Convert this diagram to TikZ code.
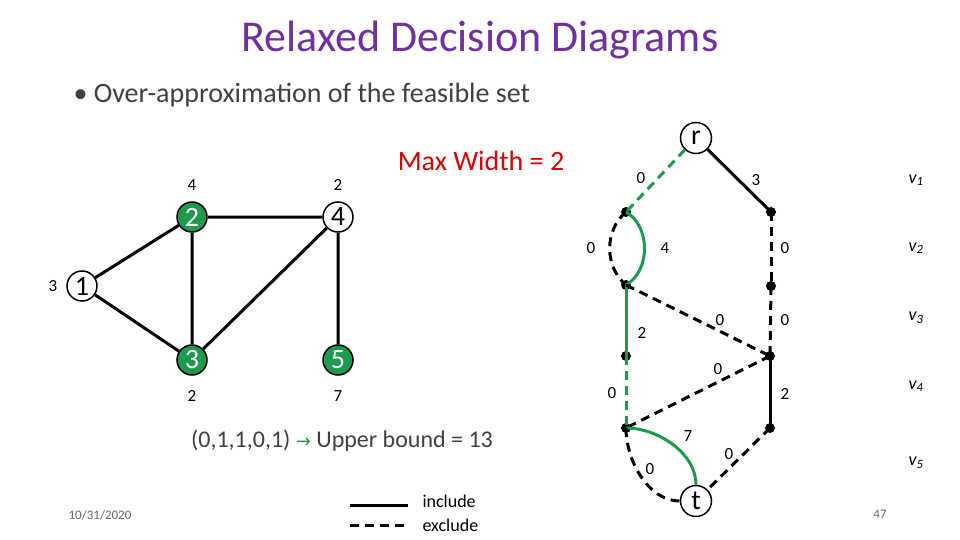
\documentclass[tikz,border=0pt]{standalone}
\usepackage{fontspec}
\setmainfont{Carlito}
\usetikzlibrary{arrows.meta}
\definecolor{grn}{HTML}{1E9A4E}
\definecolor{purp}{HTML}{7030A0}
\definecolor{txt}{HTML}{404040}
\newcommand{\fs}[1]{\fontsize{#1}{#1}\selectfont}
\tikzset{
 gnode/.style={circle,draw,line width=1.5pt,minimum size=30pt,inner sep=0pt,font=\fs{28}},
 gfill/.style={gnode,fill=grn,text=white},
 dot/.style={circle,fill=black,minimum size=10pt,inner sep=0pt},
 lab/.style={font=\fs{17}},
 edge/.style={line width=3pt},
 exc/.style={line width=3pt,dash pattern=on 9pt off 6pt},
 vl/.style={font=\fs{18}\itshape},
}
\begin{document}
\begin{tikzpicture}[x=1pt,y=-1pt]
\useasboundingbox (0,0) rectangle (960,540);
\node[font=\fs{44},text=purp] (title) at (480,40) {Relaxed Decision Diagrams};
\node[font=\fs{28},text=txt,anchor=west] (bul) at (70,95) {\textbullet\ Over-approximation of the feasible set};
\node[font=\fs{28},text=red!85!black] (mw) at (481,161) {Max Width = 2};
% graph
\node[gnode] (n1) at (82,286) {1};
\node[gfill] (n2) at (192,217) {2};
\node[gnode] (n4) at (338,217) {4};
\node[gfill] (n3) at (192,360) {3};
\node[gfill] (n5) at (338,360) {5};
\draw[edge] (n1)--(n2) (n1)--(n3) (n2)--(n4) (n2)--(n3) (n4)--(n3) (n4)--(n5);
\node[lab] (w2) at (192,185) {4};
\node[lab] (w4) at (338,185) {2};
\node[lab] (w1) at (53,286) {3};
\node[lab] (w3) at (192,396) {2};
\node[lab] (w5) at (338,396) {7};
\node[font=\fs{24},text=txt] (ub) at (342,441) {(0,1,1,0,1) \textcolor{grn}{\fontspec{DejaVu Sans}\fs{18}→} Upper bound = 13};
% legend
\coordinate (l1a) at (350,505); \coordinate (l1b) at (408,505);
\coordinate (l2a) at (350,525); \coordinate (l2b) at (408,525);
\draw[edge] (l1a)--(l1b);
\draw[exc] (l2a)--(l2b);
\node[font=\fs{18},anchor=west] (inc) at (419,501) {include};
\node[font=\fs{18},anchor=west] (exc) at (419,525) {exclude};
\node[font=\fs{13},text=gray!80!black] (date) at (100,515) {10/31/2020};
\node[font=\fs{13},text=gray!80!black] (pg) at (880,514) {47};
% DD
\node[gnode,minimum size=31pt] (r) at (696,138) {r};
\node[gnode,minimum size=31pt] (t) at (696,501) {t};
\node[dot] (a1) at (626,212) {}; \node[dot] (b1) at (771,212) {};
\node[dot] (a2) at (626,285) {}; \node[dot] (b2) at (771,286) {};
\node[dot] (a3) at (626,356) {}; \node[dot] (b3) at (770,356) {};
\node[dot] (a4) at (626,428) {}; \node[dot] (b4) at (770,428) {};
\draw[exc,grn] (r)--(a1.center);
\draw[edge] (r)--(b1.center);
\draw[exc] (a1.center) to[bend right=50] (a2.center);
\draw[edge,grn] (a1.center) to[bend left=60] (a2.center);
\draw[exc] (b1.center)--(b2.center);
\draw[edge,grn] (a2.center)--(a3.center);
\draw[exc] (a2.center)--(b3.center);
\draw[exc] (b2.center)--(b3.center);
\draw[exc,grn] (a3.center)--(a4.center);
\draw[exc] (b3.center)--(a4.center);
\draw[edge] (b3.center)--(b4.center);
\draw[edge,grn] (a4.center) to[out=0,in=90,looseness=0.9] (t.north);
\draw[exc] (a4.center) to[out=-90,in=180,looseness=0.9] (t.west);
\draw[exc] (b4.center)--(t);
\node[lab] at (641,178) {0};
\node[lab] at (756,180) {3};
\node[lab] at (591,248) {0};
\node[lab] at (665,248) {4};
\node[lab] at (785,248) {0};
\node[lab] at (642,333) {2};
\node[lab] at (720,320) {0};
\node[lab] at (785,320) {0};
\node[lab] at (612,393) {0};
\node[lab] at (718,369) {0};
\node[lab] at (785,394) {2};
\node[lab] at (688,436) {7};
\node[lab] at (650,469) {0};
\node[lab] at (729,454) {0};
\node[vl] at (916,180) {v\textsubscript{1}};
\node[vl] at (916,248) {v\textsubscript{2}};
\node[vl] at (916,318) {v\textsubscript{3}};
\node[vl] at (916,386) {v\textsubscript{4}};
\node[vl] at (916,463) {v\textsubscript{5}};
\end{tikzpicture}
\end{document}
